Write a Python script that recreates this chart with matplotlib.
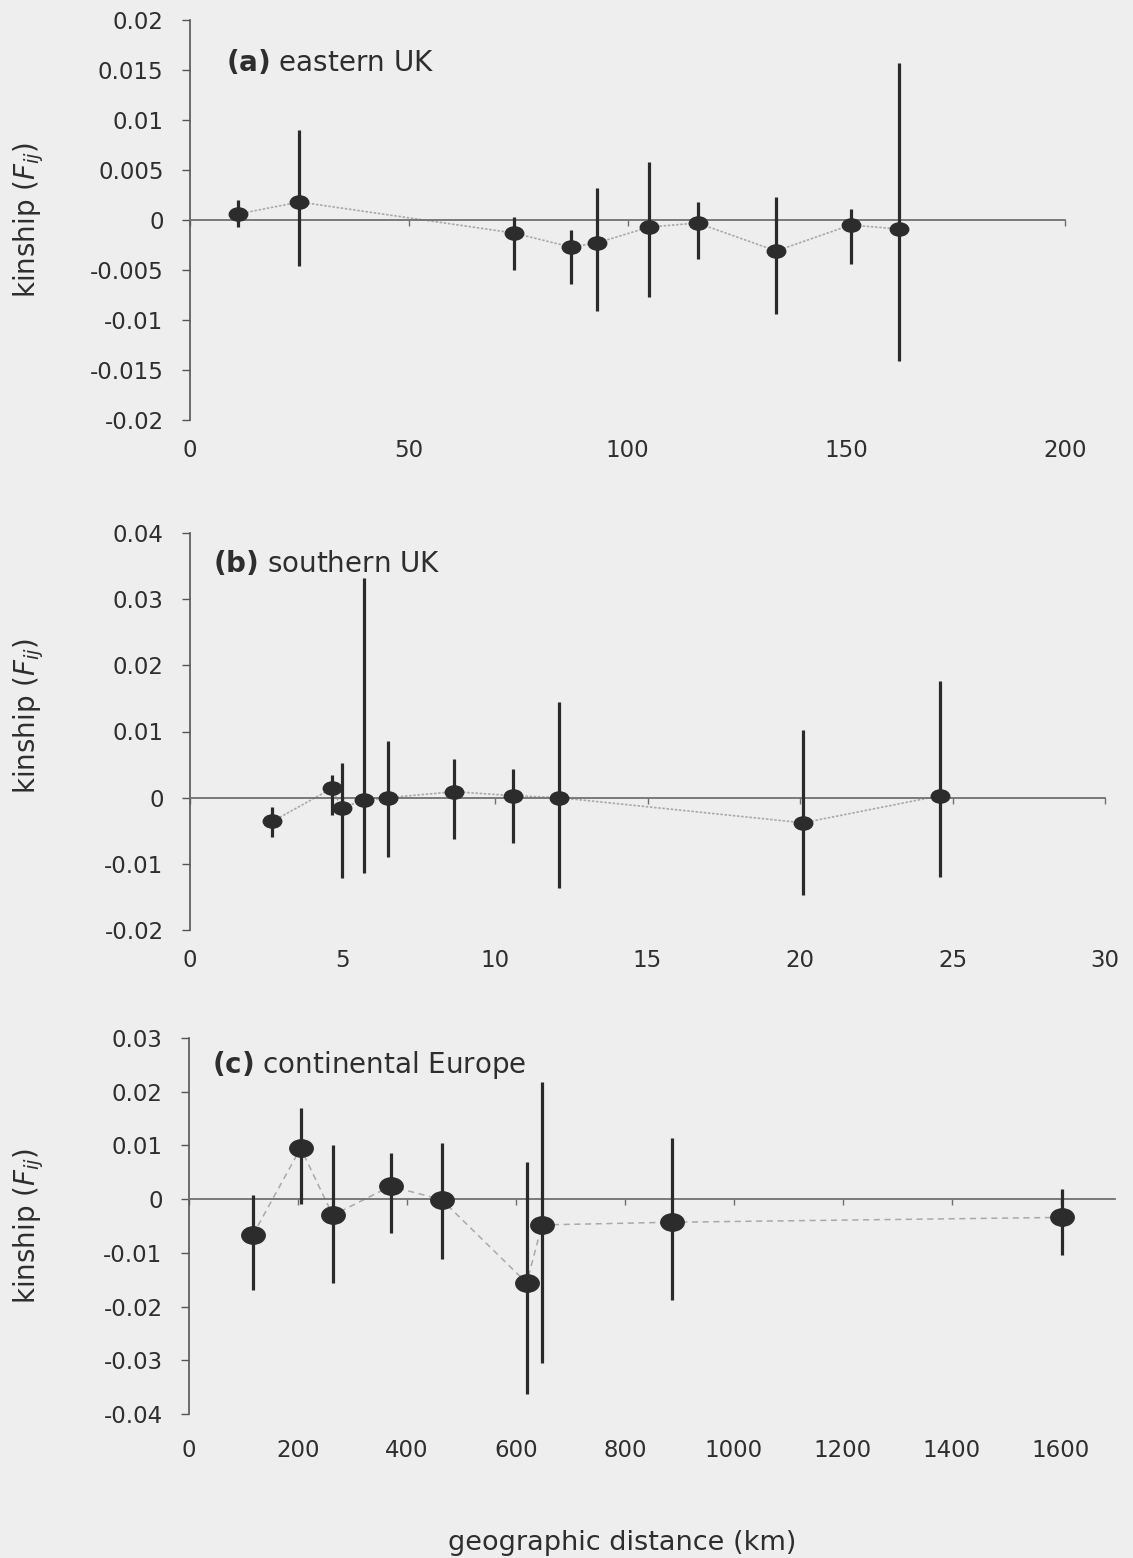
import matplotlib
matplotlib.use('Agg')
import matplotlib.pyplot as plt
from matplotlib.markers import MarkerStyle
from matplotlib.transforms import Affine2D, blended_transform_factory
from matplotlib.ticker import FuncFormatter

# ---------------- data ----------------
# (a) eastern UK
a_dist = [11, 25, 74, 87, 93, 105, 116, 134, 151, 162]
a_fij = [0.0006, 0.0018, -0.0013, -0.0027, -0.0023, -0.0007, -0.0003, -0.0031, -0.0005, -0.0009]
a_upper = [0.0020, 0.0090, 0.0003, -0.0010, 0.0032, 0.0058, 0.0018, 0.0023, 0.0011, 0.0157]
a_lower = [-0.0007, -0.0046, -0.0050, -0.0064, -0.0091, -0.0077, -0.0039, -0.0094, -0.0044, -0.0141]

# (b) southern UK
b_dist = [2.7, 4.65, 4.98, 5.7, 6.5, 8.66, 10.6, 12.1, 20.1, 24.6]
b_fij = [-0.0036, 0.0014, -0.0015, -0.0004, 0.0000, 0.0009, 0.0003, 0.0000, -0.0038, 0.0003]
b_upper = [-0.0014, 0.0035, 0.0053, 0.0332, 0.0086, 0.0058, 0.0044, 0.0145, 0.0103, 0.0177]
b_lower = [-0.0059, -0.0026, -0.0121, -0.0114, -0.0089, -0.0062, -0.0068, -0.0136, -0.0147, -0.0120]

# (c) continental Europe
c_dist = [117, 205, 264, 370, 464, 620, 648, 886, 1602]
c_fij = [-0.0067, 0.0095, -0.0030, 0.0024, -0.0001, -0.0156, -0.0048, -0.0043, -0.0034]
c_upper = [0.0007, 0.0169, 0.0100, 0.0086, 0.0104, 0.0069, 0.0218, 0.0114, 0.0019]
c_lower = [-0.0169, -0.0009, -0.0156, -0.0063, -0.0112, -0.0363, -0.0305, -0.0188, -0.0104]

a_xticks = [0, 50, 100, 150, 200]
b_xticks = [0, 5, 10, 15, 20, 25, 30]
c_xticks = [0, 200, 400, 600, 800, 1000, 1200, 1400, 1600]
a_yticks = [-0.02, -0.015, -0.01, -0.005, 0, 0.005, 0.01, 0.015, 0.02]
b_yticks = [-0.02, -0.01, 0, 0.01, 0.02, 0.03, 0.04]
c_yticks = [-0.04, -0.03, -0.02, -0.01, 0, 0.01, 0.02, 0.03]

titles = ['(a)', '(b)', '(c)']
subtitles = ['eastern UK', 'southern UK', 'continental Europe']

# ---------------- style ----------------
plt.rcParams['font.family'] = ['DejaVu Sans']
plt.rcParams['mathtext.fontset'] = 'dejavusans'
TXT = '#2e2e2e'
BG = '#eeeeee'
W, H = 1133, 1558
fig = plt.figure(figsize=(W / 100, H / 100), dpi=100, facecolor=BG)

def fmt(v, p):
    if abs(v) < 1e-12:
        return '0'
    return '%g' % round(v, 4)

panels = [
    dict(rect=[190, 20, 1065, 420], x=a_dist, y=a_fij, up=a_upper, lo=a_lower,
         xlim=(0, 200), ylim=(-0.02, 0.02), xt=a_xticks, yt=a_yticks,
         ms=9.5, sx=1.4, ls=(0, (1.5, 1.0)), lw=1.2, pad=14, title_xy=(226, 71), ylab_y=0.5),
    dict(rect=[190, 533, 1105, 930], x=b_dist, y=b_fij, up=b_upper, lo=b_lower,
         xlim=(0, 30), ylim=(-0.02, 0.04), xt=b_xticks, yt=b_yticks,
         ms=9.5, sx=1.4, ls=(0, (1.5, 1.0)), lw=1.2, pad=14, title_xy=(213, 572), ylab_y=0.54),
    dict(rect=[189, 1038, 1115, 1414], x=c_dist, y=c_fij, up=c_upper, lo=c_lower,
         xlim=(0, 1700), ylim=(-0.04, 0.03), xt=c_xticks, yt=c_yticks,
         ms=12.5, sx=1.35, ls=(0, (4, 3)), lw=1.1, pad=18, title_xy=(212, 1073), ylab_y=0.5),
]

for i, p in enumerate(panels):
    l, t, r, b = p['rect']
    ax = fig.add_axes([l / W, 1 - b / H, (r - l) / W, (b - t) / H])
    ax.set_facecolor('none')
    ax.set_xlim(*p['xlim'])
    ax.set_ylim(*p['ylim'])

    # connecting line
    ax.plot(p['x'], p['y'], color='#a9a9a9', lw=p['lw'], ls=p['ls'], zorder=2)
    # error bars
    yerr = [[v - lo for v, lo in zip(p['y'], p['lo'])],
            [up - v for v, up in zip(p['y'], p['up'])]]
    ax.errorbar(p['x'], p['y'], yerr=yerr, fmt='none', ecolor='#2a2a2a',
                elinewidth=2.3, capsize=0, zorder=3)
    # elliptical markers
    mk = MarkerStyle('o', transform=Affine2D().scale(p['sx'], 1.0))
    ax.plot(p['x'], p['y'], ls='none', marker=mk, ms=p['ms'],
            mfc='#2c2c2c', mec='#2c2c2c', zorder=4)

    # spines
    ax.spines['top'].set_visible(False)
    ax.spines['right'].set_visible(False)
    ax.spines['left'].set_color('#555555')
    ax.spines['left'].set_linewidth(1.2)
    ax.spines['bottom'].set_position(('data', 0))
    ax.spines['bottom'].set_color('#707070')
    ax.spines['bottom'].set_linewidth(1.3)

    ax.set_xticks(p['xt'])
    ax.tick_params(axis='x', direction='out', length=4, width=1.0, color='#707070',
                   labelbottom=False)
    ax.set_yticks(p['yt'])
    ax.yaxis.set_major_formatter(FuncFormatter(fmt))
    ax.tick_params(axis='y', direction='out', length=6, width=1.0, color='#555555',
                   pad=13, labelsize=16.5, labelcolor=TXT)

    sec = ax.secondary_xaxis('bottom')
    sec.set_xticks(p['xt'])
    sec.spines['bottom'].set_visible(False)
    sec.tick_params(length=0, pad=p['pad'], labelsize=16.5, labelcolor=TXT)

    ax.set_ylabel('kinship ($F_{ij}$)', fontsize=20, color=TXT)
    ax.yaxis.set_label_coords(46 / W, p['ylab_y'],
                              transform=blended_transform_factory(fig.transFigure, ax.transAxes))

    tx, ty = p['title_xy']
    fig.text(tx / W, 1 - ty / H, r'$\mathbf{' + titles[i] + '}$ ' + subtitles[i],
             fontsize=20, color=TXT, ha='left', va='baseline')

fig.text(622 / W, 1 - 1543 / H, 'geographic distance (km)', fontsize=19.5,
         color=TXT, ha='center', va='center')

fig.savefig('out.png', dpi=100, facecolor=BG)
